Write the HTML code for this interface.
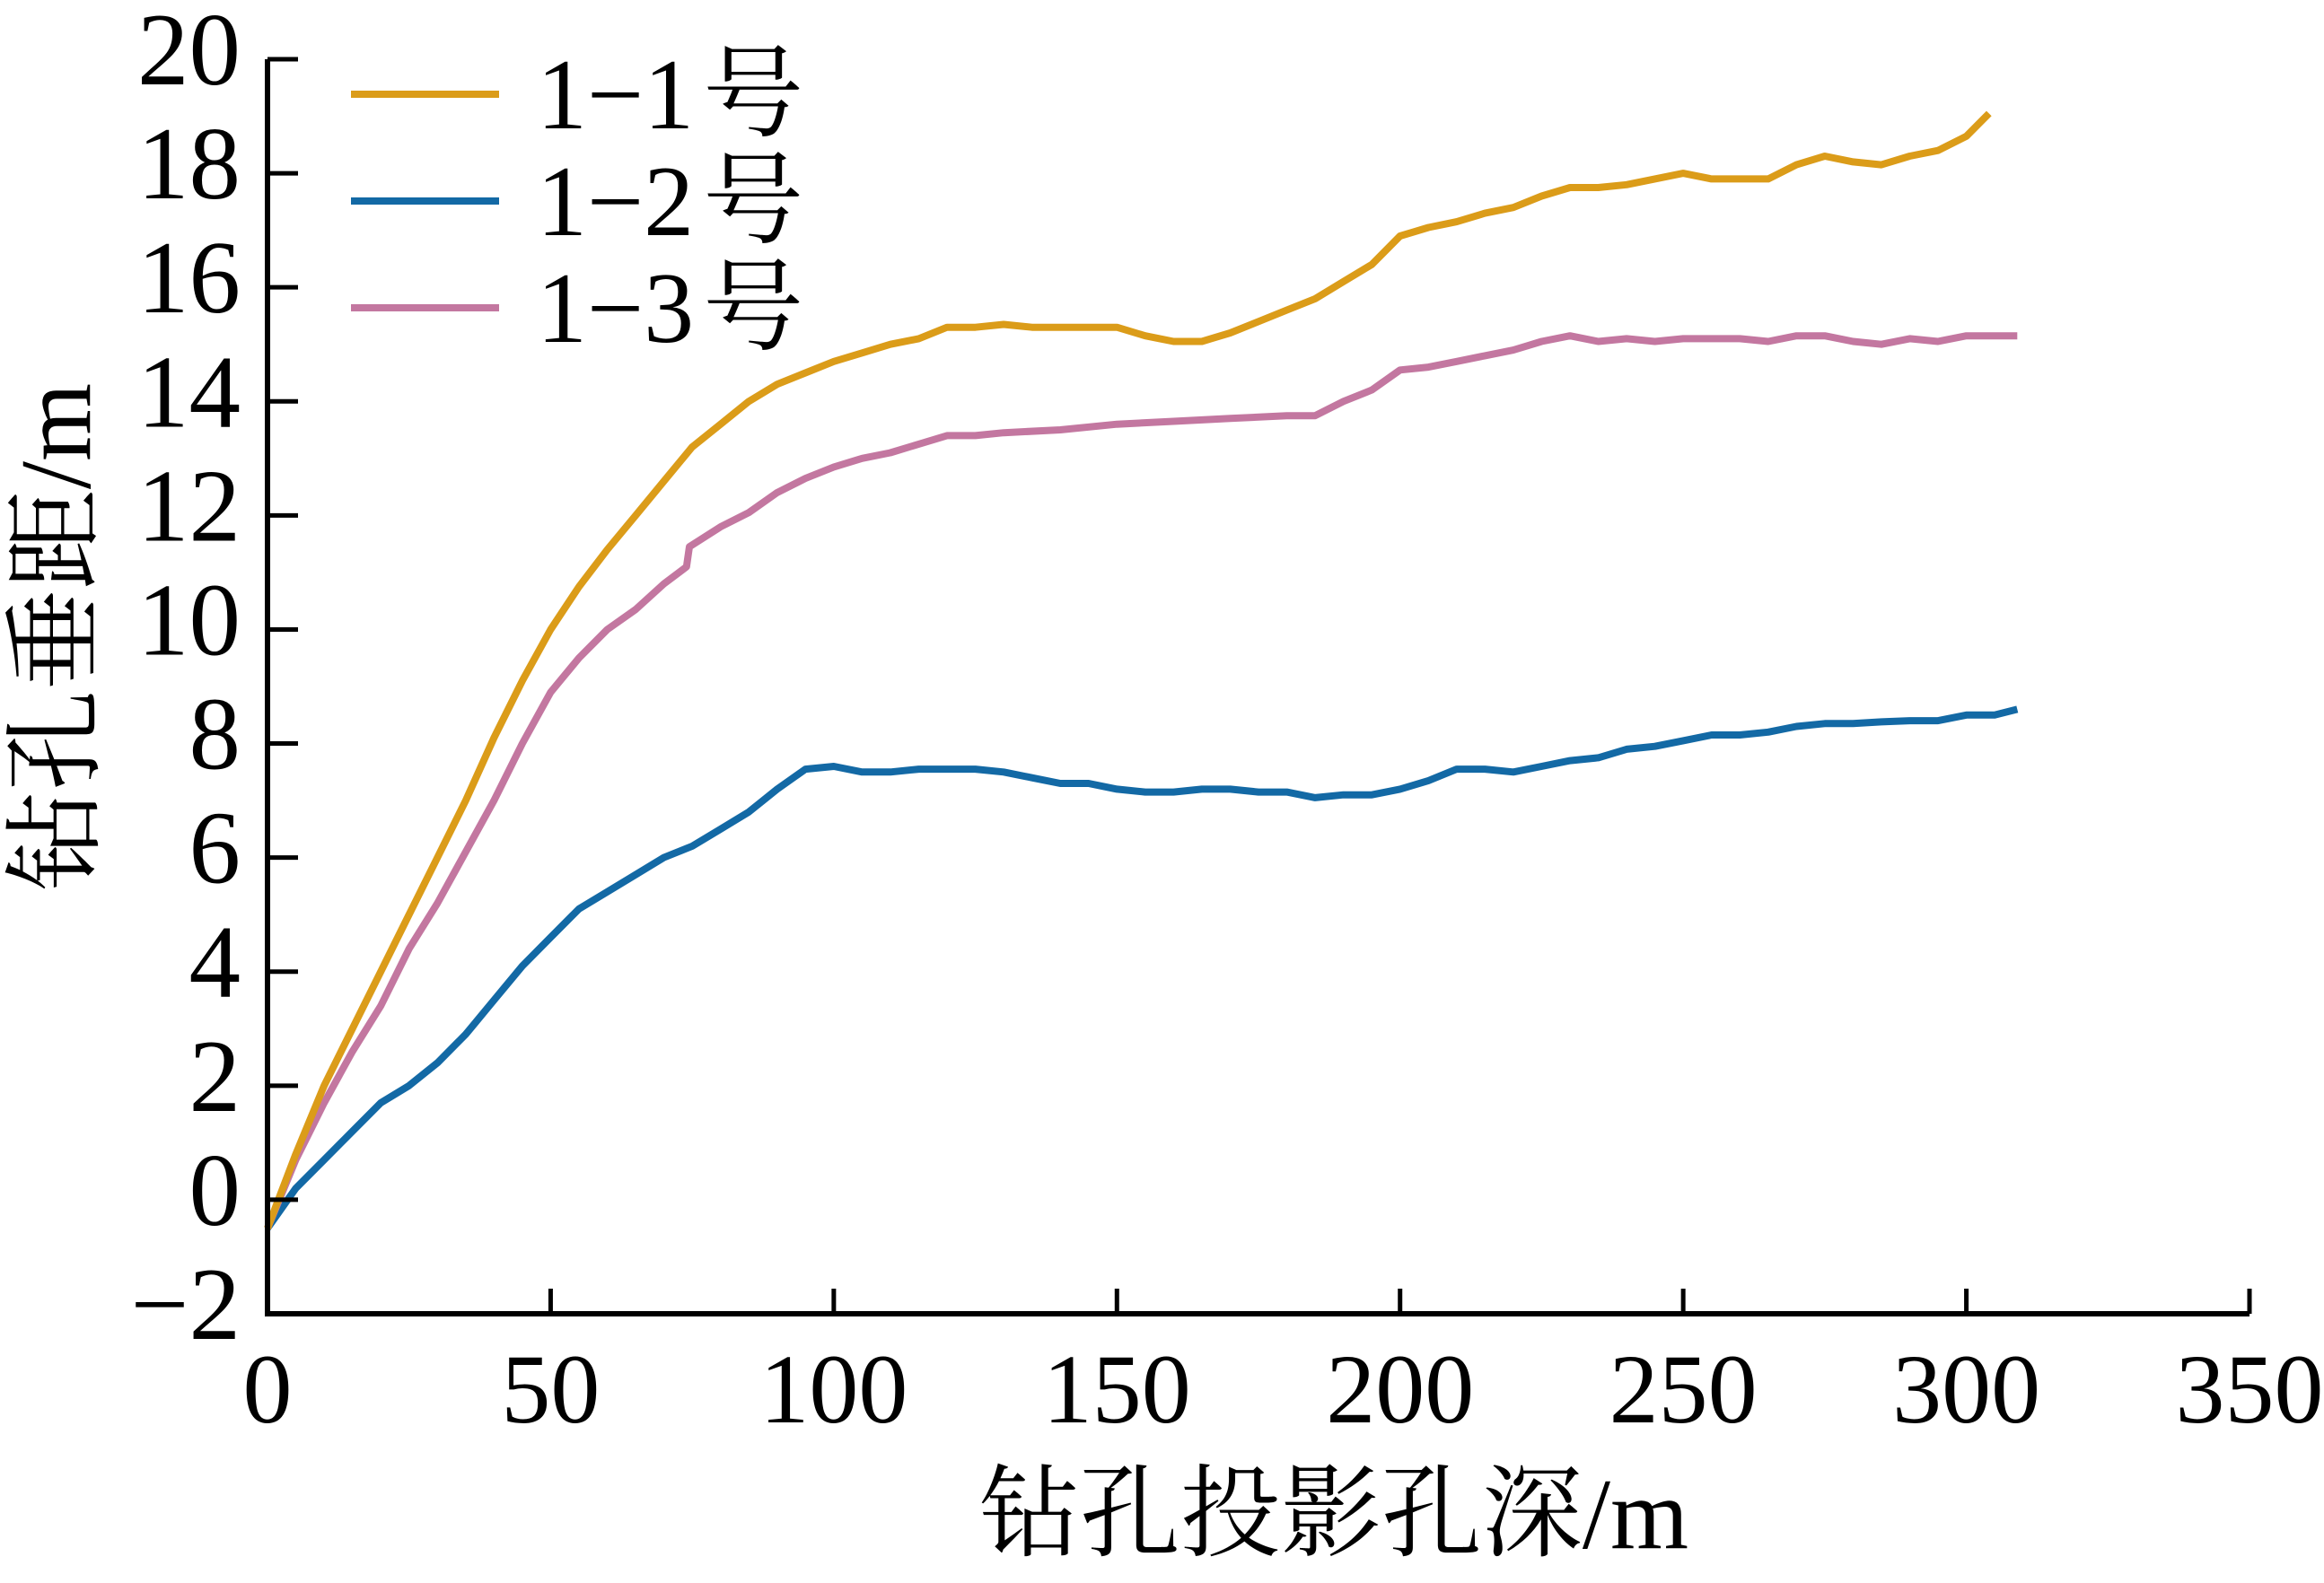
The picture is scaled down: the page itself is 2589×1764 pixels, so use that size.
<!DOCTYPE html>
<html><head><meta charset="utf-8">
<style>html,body{margin:0;padding:0;background:#fff}svg{display:block}
text{font-family:"Liberation Serif","Noto Serif CJK SC",serif;fill:#000}</style>
</head><body>
<svg id="chart" width="2589" height="1764" viewBox="0 0 2589 1764" xmlns="http://www.w3.org/2000/svg">
<rect width="2589" height="1764" fill="#fff"/>
<g id="series"></g>
<g id="axes"></g>
<text x="1486" y="1725" font-size="112" font-family="Liberation Serif, Noto Serif CJK SC, serif" text-anchor="middle">钻孔投影孔深/m</text>
<text transform="translate(100,710) rotate(-90)" font-size="112" font-family="Liberation Serif, Noto Serif CJK SC, serif" text-anchor="middle">钻孔垂距/m</text>
<g>
<line x1="391" y1="105" x2="556" y2="105" stroke="#DB9C19" stroke-width="8"/>
<text x="598" y="143" font-size="112" font-family="Liberation Serif, Noto Serif CJK SC, serif">1−1<tspan dx="10">号</tspan></text>
<line x1="391" y1="224" x2="556" y2="224" stroke="#1369A5" stroke-width="8"/>
<text x="598" y="262" font-size="112" font-family="Liberation Serif, Noto Serif CJK SC, serif">1−2<tspan dx="10">号</tspan></text>
<line x1="391" y1="343" x2="556" y2="343" stroke="#C377A0" stroke-width="8"/>
<text x="598" y="381" font-size="112" font-family="Liberation Serif, Noto Serif CJK SC, serif">1−3<tspan dx="10">号</tspan></text>
</g>
</svg>
<script>
const xTicks=[0,50,100,150,200,250,300,350];
const yTicks=[-2,0,2,4,6,8,10,12,14,16,18,20];
const x1=[0,5,10,15,20,25,30,35,40,45,50,55,60,65,70,75,80,85,90,95,100,105,110,115,120,125,130,135,140,145,150,155,160,165,170,175,180,185,190,195,200,205,210,215,220,225,230,235,240,245,250,255,260,265,270,275,280,285,290,295,300,304];
const y1=[-0.5,0.8,2.0,3.0,4.0,5.0,6.0,7.0,8.1,9.1,10.0,10.75,11.4,12.0,12.6,13.2,13.6,14.0,14.3,14.5,14.7,14.85,15.0,15.1,15.3,15.3,15.35,15.3,15.3,15.3,15.3,15.15,15.05,15.05,15.2,15.4,15.6,15.8,16.1,16.4,16.9,17.05,17.15,17.3,17.4,17.6,17.75,17.75,17.8,17.9,18.0,17.9,17.9,17.9,18.15,18.3,18.2,18.15,18.3,18.4,18.65,19.05];
const x2=[0,5,10,15,20,25,30,35,40,45,50,55,60,65,70,75,80,85,90,95,100,105,110,115,120,125,130,135,140,145,150,155,160,165,170,175,180,185,190,195,200,205,210,215,220,225,230,235,240,245,250,255,260,265,270,275,280,285,290,295,300,305,309];
const y2=[-0.5,0.2,0.7,1.2,1.7,2.0,2.4,2.9,3.5,4.1,4.6,5.1,5.4,5.7,6.0,6.2,6.5,6.8,7.2,7.55,7.6,7.5,7.5,7.55,7.55,7.55,7.5,7.4,7.3,7.3,7.2,7.15,7.15,7.2,7.2,7.15,7.15,7.05,7.1,7.1,7.2,7.35,7.55,7.55,7.5,7.6,7.7,7.75,7.9,7.95,8.05,8.15,8.15,8.2,8.3,8.35,8.35,8.38,8.4,8.4,8.5,8.5,8.6];
const x3=[0,5,10,15,20,25,30,35,40,45,50,55,60,65,70,74,74.5,80,85,90,95,100,105,110,115,120,125,130,140,150,160,170,180,185,190,195,200,205,210,215,220,225,230,235,240,245,250,255,260,265,270,275,280,285,290,295,300,305,309];
const y3=[-0.5,0.7,1.7,2.6,3.4,4.4,5.2,6.1,7.0,8.0,8.9,9.5,10.0,10.35,10.8,11.1,11.45,11.8,12.05,12.4,12.65,12.85,13.0,13.1,13.25,13.4,13.4,13.45,13.5,13.6,13.65,13.7,13.75,13.75,14.0,14.2,14.55,14.6,14.7,14.8,14.9,15.05,15.15,15.05,15.1,15.05,15.1,15.1,15.1,15.05,15.15,15.15,15.05,15.0,15.1,15.05,15.15,15.15,15.15];
const NS='http://www.w3.org/2000/svg';
const FF='Liberation Serif, Noto Serif CJK SC, serif';
const X0=298,X1=2506,Y0=1464,Y1=66;
function sx(v){return X0+(v-0)/(350-0)*(X1-X0);}
function sy(v){return Y0-(v-(-2))/(20-(-2))*(Y0-Y1);}
function mk(tag,attrs,parent){const e=document.createElementNS(NS,tag);for(const k in attrs)e.setAttribute(k,attrs[k]);parent.appendChild(e);return e;}
const axes=document.getElementById('axes');
const ax=mk('path',{d:`M${X0},${Y1} L${X0},${Y0} L${X1},${Y0}`,fill:'none',stroke:'#000','stroke-width':6},axes);


xTicks.forEach(t=>{
  const l=mk('line',{x1:sx(t),x2:sx(t),y1:Y0,y2:Y0-28,stroke:'#000','stroke-width':5},axes);
  
  
  const tx=mk('text',{x:sx(t),y:1585,'font-size':110,'font-family':FF,'text-anchor':'middle'},axes);
  tx.textContent=String(t);
  
  
});
yTicks.forEach(t=>{
  const l=mk('line',{x1:X0,x2:X0+34,y1:sy(t),y2:sy(t),stroke:'#000','stroke-width':5},axes);
  
  
  const tx=mk('text',{x:268,y:sy(t)+28,'font-size':115,'font-family':FF,'text-anchor':'end'},axes);
  tx.textContent=(t<0?'−':'')+Math.abs(t);
  
  
});
const sg=document.getElementById('series');
function line(xs,ys,color,name){
  const d=xs.map((x,i)=>(i?'L':'M')+sx(x).toFixed(1)+','+sy(ys[i]).toFixed(1)).join(' ');
  const p=mk('path',{d:d,fill:'none',stroke:color,'stroke-width':8,'stroke-linejoin':'round'},sg);
  
  
}
line(x2,y2,'#1369A5','series-1-2-line');
line(x3,y3,'#C377A0','series-1-3-line');
line(x1,y1,'#DB9C19','series-1-1-line');
</script>
</body></html>
